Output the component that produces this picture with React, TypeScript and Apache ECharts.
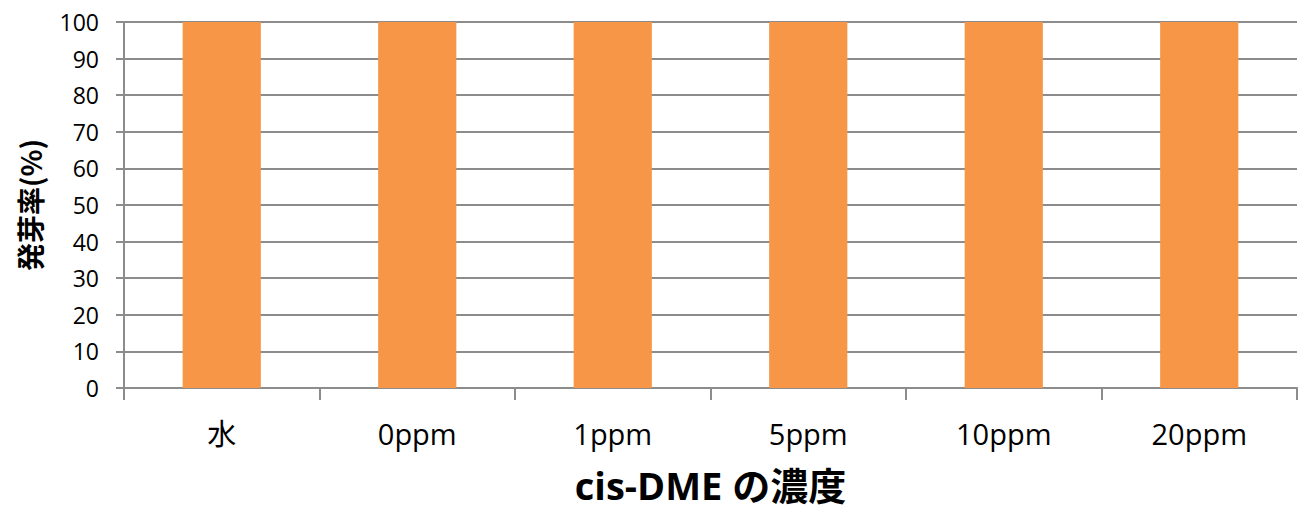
import React, { useEffect, useRef } from "react";
import * as echarts from "echarts";

const categories = ["水", "0ppm", "1ppm", "5ppm", "10ppm", "20ppm"];
const germinationRate = [100, 100, 100, 100, 100, 100];
const xAxisTitle = "cis-DME の濃度";
const yAxisTitle = "発芽率(%)";

const FONT = "'Open Sans', 'Noto Sans CJK JP', sans-serif";
const FONT_CJK = "'Noto Sans CJK JP', 'Open Sans', sans-serif";

export default function App() {
  const ref = useRef<HTMLDivElement>(null);
  useEffect(() => {
    if (!ref.current) return;
    const chart = echarts.init(ref.current, undefined, { renderer: "svg" });
    chart.setOption({
      animation: false,
      backgroundColor: "#ffffff",
      grid: { left: 124, right: 10, top: 22, bottom: 124, containLabel: false },
      xAxis: {
        type: "category",
        data: categories,
        boundaryGap: true,
        axisLine: { show: true, lineStyle: { color: "#8c8c8c", width: 2 } },
        axisTick: { show: true, length: 12, alignWithLabel: false, lineStyle: { color: "#8c8c8c", width: 2 } },
        axisLabel: { color: "#000", fontSize: 29, fontFamily: FONT, margin: 31 },
        name: xAxisTitle,
        nameLocation: "middle",
        nameGap: 78,
        nameTextStyle: { color: "#000", fontSize: 38, fontWeight: "bold", fontFamily: FONT },
      },
      yAxis: {
        type: "value",
        min: 0,
        max: 100,
        interval: 10,
        axisLine: { show: true, lineStyle: { color: "#8c8c8c", width: 2 } },
        axisTick: { show: true, length: 8, inside: false, lineStyle: { color: "#8c8c8c", width: 2 } },
        splitLine: { show: true, lineStyle: { color: "#8c8c8c", width: 2 } },
        axisLabel: { color: "#000", fontSize: 23, fontFamily: FONT, margin: 25 },
        name: yAxisTitle,
        nameLocation: "middle",
        nameGap: 80,
        nameRotate: 90,
        nameTextStyle: { color: "#000", fontSize: 28, fontWeight: "bold", fontFamily: FONT_CJK },
      },
      series: [
        {
          type: "bar",
          data: germinationRate,
          barWidth: "40%",
          itemStyle: { color: "#F79646" },
        },
      ],
    });
    return () => chart.dispose();
  }, []);
  return (
    <div
      ref={ref}
      style={{ position: "fixed", left: 0, top: 0, width: 1307, height: 512 }}
    />
  );
}
